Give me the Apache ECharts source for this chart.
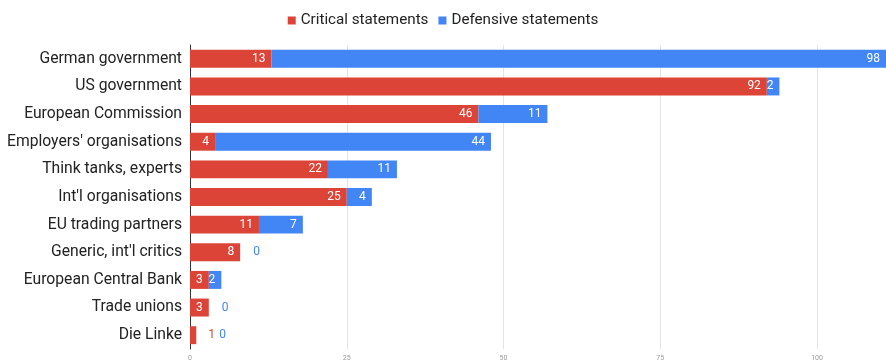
<!DOCTYPE html>
<html><head><meta charset="utf-8">
<script src="https://cdn.jsdelivr.net/npm/echarts@6/dist/echarts.min.js"></script>
<style>html,body{margin:0;padding:0;background:#fff}#c{width:886px;height:363px}</style>
</head><body><div id="c"></div>
<script>
var categories = ["German government","US government","European Commission","Employers' organisations","Think tanks, experts","Int'l organisations","EU trading partners","Generic, int'l critics","European Central Bank","Trade unions","Die Linke"];
var critical = [13,92,46,4,22,25,11,8,3,3,1];
var defensive = [98,2,11,44,11,4,7,0,2,0,0];
var xTicks = [0,25,50,75,100];

var RED = '#db4437', BLUE = '#4285f4';
var font = 'Roboto';

var critData = critical.map(function(v){
  if (v < 2) return {value:v, label:{position:'right', color:RED, distance:12}};
  return v;
});
var defData = defensive.map(function(v,i){
  if (v === 0) {
    var d = critical[i] < 2 ? 23 : 13;
    return {value:v, label:{position:'right', color:BLUE, distance:d}};
  }
  return v;
});

var chart = echarts.init(document.getElementById('c'), null, {renderer:'canvas'});
chart.setOption({
  animation:false,
  textStyle:{fontFamily:font},
  legend:{
    top:8, left:'center',
    itemWidth:8, itemHeight:8, itemGap:10,
    icon:'rect',
    textStyle:{fontSize:15.2, color:'#222', fontFamily:font}
  },
  grid:{left:190, right:0, top:45, bottom:14, containLabel:false},
  xAxis:{
    type:'value', min:0, max:111, interval:25,
    axisLine:{show:false}, axisTick:{show:false},
    splitLine:{lineStyle:{color:'#e3e3e3', width:1}},
    axisLabel:{fontSize:7, color:'#999', margin:6,
      formatter:function(v){return xTicks.indexOf(v)>=0? String(v):'';},
      showMaxLabel:false}
  },
  yAxis:{
    type:'category', data:categories, inverse:true,
    axisTick:{show:false},
    axisLine:{show:true, lineStyle:{color:'#333', width:1}},
    axisLabel:{fontSize:15.7, color:'#222', margin:8, fontFamily:font}
  },
  series:[
    {name:'Critical statements', type:'bar', stack:'s', data:critData, barWidth:'65%',
     itemStyle:{color:RED},
     label:{show:true, position:'insideRight', color:'#fff', fontSize:12, fontFamily:font, distance:6}},
    {name:'Defensive statements', type:'bar', stack:'s', data:defData,
     itemStyle:{color:BLUE},
     label:{show:true, position:'insideRight', color:'#fff', fontSize:12, fontFamily:font, distance:6}}
  ]
});
</script></body></html>
